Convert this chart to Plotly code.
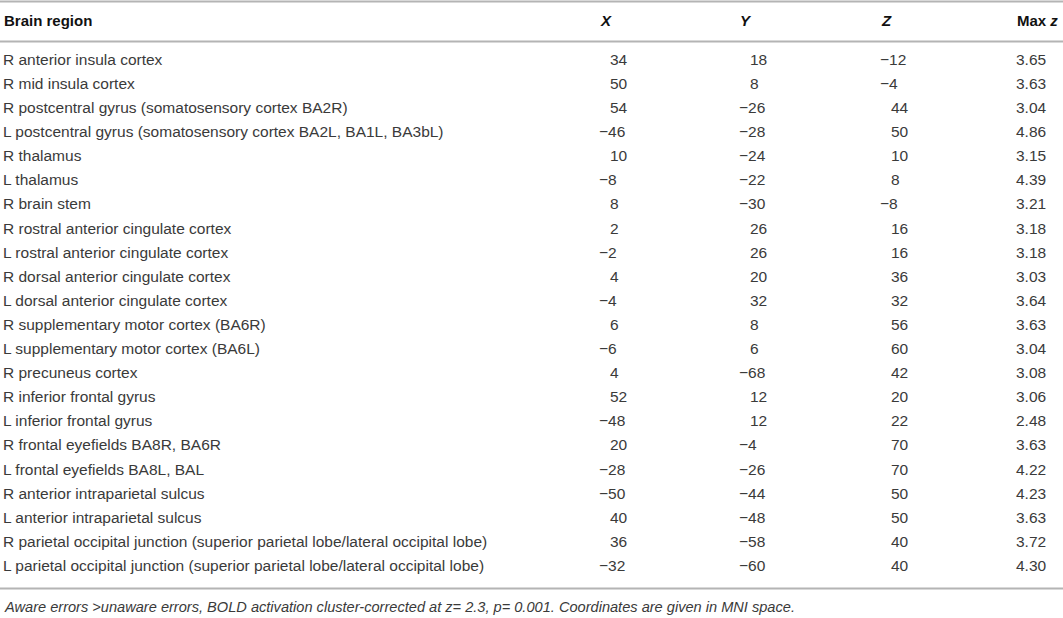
import plotly.graph_objects as go

# --- table data ---
regions = [
    "R anterior insula cortex",
    "R mid insula cortex",
    "R postcentral gyrus (somatosensory cortex BA2R)",
    "L postcentral gyrus (somatosensory cortex BA2L, BA1L, BA3bL)",
    "R thalamus",
    "L thalamus",
    "R brain stem",
    "R rostral anterior cingulate cortex",
    "L rostral anterior cingulate cortex",
    "R dorsal anterior cingulate cortex",
    "L dorsal anterior cingulate cortex",
    "R supplementary motor cortex (BA6R)",
    "L supplementary motor cortex (BA6L)",
    "R precuneus cortex",
    "R inferior frontal gyrus",
    "L inferior frontal gyrus",
    "R frontal eyefields BA8R, BA6R",
    "L frontal eyefields BA8L, BAL",
    "R anterior intraparietal sulcus",
    "L anterior intraparietal sulcus",
    "R parietal occipital junction (superior parietal lobe/lateral occipital lobe)",
    "L parietal occipital junction (superior parietal lobe/lateral occipital lobe)",
]
x_mni = [34, 50, 54, -46, 10, -8, 8, 2, -2, 4, -4, 6, -6, 4, 52, -48, 20, -28, -50, 40, 36, -32]
y_mni = [18, 8, -26, -28, -24, -22, -30, 26, 26, 20, 32, 8, 6, -68, 12, 12, -4, -26, -44, -48, -58, -60]
z_mni = [-12, -4, 44, 50, 10, 8, -8, 16, 16, 36, 32, 56, 60, 42, 20, 22, 70, 70, 50, 50, 40, 40]
max_z = [3.65, 3.63, 3.04, 4.86, 3.15, 4.39, 3.21, 3.18, 3.18, 3.03, 3.64, 3.63, 3.04, 3.08,
         3.06, 2.48, 3.63, 4.22, 4.23, 3.63, 3.72, 4.30]

headers = ["<b>Brain region</b>", "<b><i>X</i></b>", "<b><i>Y</i></b>", "<b><i>Z</i></b>",
           "<b>Max <i>z</i></b>"]
caption = ("<i>Aware errors &gt;unaware errors, BOLD activation cluster-corrected at "
           "z= 2.3, p= 0.001. Coordinates are given in MNI space.</i>")

# --- layout constants (pixel-like x units, row-index y units) ---
W, H = 1063, 618
ROW0, ROWH = 61, 24.1        # centre of first row, row pitch in px
col_x = [3, 599, 739, 880, 1016]
MINUS_W = 11                 # room left for the minus sign on positive numbers
FONT = "Liberation Sans, Arial, sans-serif"
SIZE = 15.5
TXT = "#3a3a3a"
RULE = "#b4b4b4"


def px_to_row(p):
    return (p - ROW0) / ROWH


def fmt_int(v):
    return ("\u2212" + str(abs(v))) if v < 0 else str(v)


rows = list(range(len(regions)))
fig = go.Figure()

fig.add_trace(go.Scatter(x=[col_x[0]] * len(rows), y=rows, text=regions, mode="text",
                         textposition="middle right", hoverinfo="skip",
                         textfont=dict(family=FONT, size=SIZE, color=TXT)))

for cx, vals in zip(col_x[1:4], [x_mni, y_mni, z_mni]):
    fig.add_trace(go.Scatter(
        x=[cx + (0 if v < 0 else MINUS_W) for v in vals], y=rows,
        text=[fmt_int(v) for v in vals], mode="text", textposition="middle right",
        hoverinfo="skip", textfont=dict(family=FONT, size=SIZE, color=TXT)))

fig.add_trace(go.Scatter(x=[col_x[4]] * len(rows), y=rows,
                         text=[f"{v:.2f}" for v in max_z], mode="text",
                         textposition="middle right", hoverinfo="skip",
                         textfont=dict(family=FONT, size=SIZE, color=TXT)))

# header row
for cx, h in zip(col_x, headers):
    fig.add_annotation(x=cx - 1, y=px_to_row(20), text=h, showarrow=False, xanchor="left",
                       yanchor="middle", font=dict(family=FONT, size=15, color="#111"))

# caption
fig.add_annotation(x=col_x[0] - 1, y=px_to_row(607), text=caption, showarrow=False,
                   xanchor="left", yanchor="middle",
                   font=dict(family=FONT, size=14.6, color=TXT))

# horizontal rules
for p in [1.5, 41.5, 588.5]:
    fig.add_shape(type="line", xref="paper", x0=0, x1=1, y0=px_to_row(p), y1=px_to_row(p),
                  line=dict(color=RULE, width=2))

fig.update_layout(
    width=W, height=H,
    margin=dict(l=0, r=0, t=0, b=0),
    paper_bgcolor="white", plot_bgcolor="white",
    showlegend=False,
    xaxis=dict(range=[0, W], visible=False, fixedrange=True),
    yaxis=dict(range=[px_to_row(H), px_to_row(0)], visible=False, fixedrange=True),
)

fig.write_html("out.html", config={"displayModeBar": False})

# drop the default 8px page margin so the table fills the window
with open("out.html", encoding="utf-8") as f:
    page = f.read()
page = page.replace("<head>", "<head><style>body{margin:0;overflow:hidden}</style>", 1)
with open("out.html", "w", encoding="utf-8") as f:
    f.write(page)
